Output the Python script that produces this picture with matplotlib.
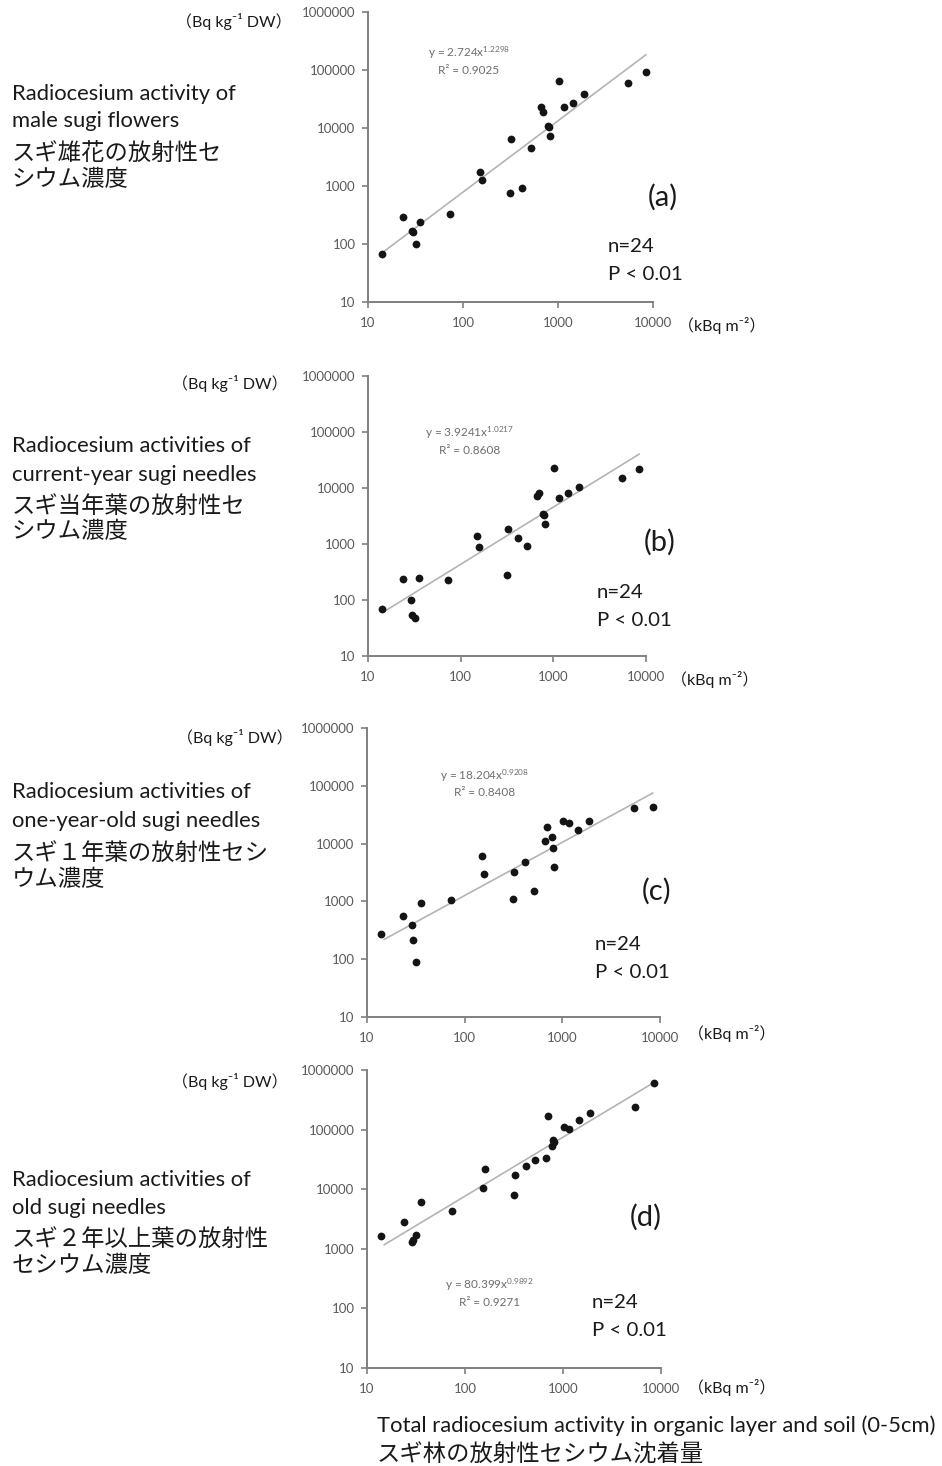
import numpy as np
import matplotlib
matplotlib.use('Agg')
import matplotlib.pyplot as plt

plt.rcParams['font.family'] = ['Lato', 'Noto Sans CJK JP', 'DejaVu Sans']
plt.rcParams['mathtext.default'] = 'regular'

# Total radiocesium deposition (kBq m-2), same 24 sites in every panel
deposition = [14, 23.6, 29.0, 29.6, 31.8, 35.6, 73, 151, 159, 313, 322, 416,
              515, 668, 698, 780, 795, 818, 1025, 1158, 1455, 1875, 5450, 8420]

# Radiocesium activity (Bq kg-1 DW)
flowers = [67, 296, 168, 160, 99, 237, 333, 1742, 1268, 767, 6380, 912,
           4520, 23300, 18600, 10800, 10500, 7180, 64500, 23300, 26600, 38000, 58900, 92500]
current_year = [69, 240, 100, 55, 48, 247, 224, 1410, 871, 275, 1880, 1280,
                920, 7100, 8150, 3480, 3300, 2280, 22400, 6710, 8150, 10600, 15100, 22100]
one_year = [277, 553, 395, 218, 91, 938, 1057, 6030, 2940, 1110, 3190, 4810,
            1510, 11100, 19400, 12800, 8510, 3940, 24900, 22700, 17000, 24600, 40700, 42900]
old_needles = [1620, 2850, 1300, 1400, 1720, 6180, 4360, 10600, 21500, 8090, 17500, 24800,
               30500, 33400, 171000, 53100, 67800, 61100, 111000, 104000, 147000, 187000, 239000, 612000]

series = [flowers, current_year, one_year, old_needles]
panel_tags = ['(a)', '(b)', '(c)', '(d)']
fit_a = [2.724, 3.9241, 18.204, 80.399]
fit_b = [1.2298, 1.0217, 0.9208, 0.9892]
fit_exp_txt = ['1.2298', '1.0217', '0.9208', '0.9892']
r2_txt = ['0.9025', '0.8608', '0.8408', '0.9271']

labels_en = [['Radiocesium activity of', 'male sugi flowers'],
             ['Radiocesium activities of', 'current-year sugi needles'],
             ['Radiocesium activities of', 'one-year-old sugi needles'],
             ['Radiocesium activities of', 'old sugi needles']]
labels_jp = [['スギ雄花の放射性セ', 'シウム濃度'],
             ['スギ当年葉の放射性セ', 'シウム濃度'],
             ['スギ１年葉の放射性セシ', 'ウム濃度'],
             ['スギ２年以上葉の放射性', 'セシウム濃度']]

ticks_x = [10, 100, 1000, 10000]
ticks_y = [10, 100, 1000, 10000, 100000, 1000000]

W, H = 942, 1466
fig = plt.figure(figsize=(W / 100, H / 100), dpi=100)
jp = ['Noto Sans CJK JP', 'DejaVu Sans']
ink = '#1a1a1a'


def px(x, y):
    return x / W, 1 - y / H


# axes boxes in pixels: left, right, top, bottom
boxes = [(368, 653, 12, 302), (368, 646, 376, 656), (367, 660, 728, 1017), (367, 661, 1070, 1368)]
eq_pos = [(469, 53), (470, 433), (485, 776), (490, 1285)]
tag_pos = [(663, 197), (660, 542), (657, 891), (646, 1217)]
n_pos = [(608, 247), (597, 593), (595, 944), (592, 1302)]
yunit_pos = [(292, 21), (288, 383), (293, 738), (288, 1082)]
xunit_pos = [(678, 326), (671, 679), (688, 1033), (688, 1388)]
label_y = [(94, 121, 154, 180), (446, 475, 506, 532), (792, 821, 853, 880), (1180, 1208, 1239, 1266)]

grey = '#7f7f7f'
for i in range(4):
    l, r, t, b = boxes[i]
    ax = fig.add_axes([l / W, 1 - b / H, (r - l) / W, (b - t) / H])
    ax.set_xscale('log')
    ax.set_yscale('log')
    ax.set_xlim(10, 10000)
    ax.set_ylim(10, 1000000)

    # trend line
    xs = np.array([15, deposition[-1]])
    ax.plot(xs, fit_a[i] * xs ** fit_b[i], color='#b4b4b4', lw=1.2, zorder=1)
    ax.plot(deposition, series[i], 'o', color='#141414', ms=5.6, mec='none', zorder=2)

    ax.set_xticks(ticks_x)
    ax.set_xticklabels([str(v) for v in ticks_x], fontsize=9.5, color='#5a5a5a')
    ax.set_yticks(ticks_y)
    ax.set_yticklabels([str(v) for v in ticks_y], fontsize=9.5, color='#5a5a5a')
    ax.minorticks_off()
    ax.tick_params(colors=grey, labelcolor='#5a5a5a', length=4, width=1.2)
    ax.tick_params(axis='x', pad=7)
    ax.tick_params(axis='y', pad=5)
    for s in ['top', 'right']:
        ax.spines[s].set_visible(False)
    for s in ['left', 'bottom']:
        ax.spines[s].set_color(grey)
        ax.spines[s].set_linewidth(1.4)

    ex, ey = eq_pos[i]
    fig.text(*px(ex, ey), 'y = %gx$^{%s}$' % (fit_a[i], fit_exp_txt[i]),
             fontsize=8.5, color='#6e6e6e', ha='center', va='center')
    fig.text(*px(ex, ey + 17), 'R² = ' + r2_txt[i],
             fontsize=8.5, color='#6e6e6e', ha='center', va='center')

    fig.text(*px(*tag_pos[i]), panel_tags[i], fontsize=21, color=ink, ha='center', va='center')
    nx, ny = n_pos[i]
    fig.text(*px(nx, ny), 'n=24', fontsize=14.7, color=ink, ha='left', va='center')
    fig.text(*px(nx, ny + 28), 'P < 0.01', fontsize=14.7, color=ink, ha='left', va='center')

    fig.text(*px(*yunit_pos[i]), '（Bq kg⁻¹ DW）', fontsize=11.5, color=ink,
             ha='right', va='center')
    fig.text(*px(*xunit_pos[i]), '（kBq m⁻²）', fontsize=11.5, color=ink,
             ha='left', va='center')

    y1, y2, y3, y4 = label_y[i]
    fig.text(*px(12, y1), labels_en[i][0], fontsize=15.8, color=ink, va='center')
    fig.text(*px(12, y2), labels_en[i][1], fontsize=15.8, color=ink, va='center')
    fig.text(*px(12, y3), labels_jp[i][0], fontsize=16.8, color=ink, va='center', family=jp)
    fig.text(*px(12, y4), labels_jp[i][1], fontsize=16.8, color=ink, va='center', family=jp)

fig.text(*px(377, 1426), 'Total radiocesium activity in organic layer and soil (0-5cm)',
         fontsize=15.8, color=ink, va='center')
fig.text(*px(377, 1455), 'スギ林の放射性セシウム沈着量', fontsize=16.8, color=ink, va='center',
         family=jp)

fig.savefig('out.png', dpi=100, facecolor='white')
